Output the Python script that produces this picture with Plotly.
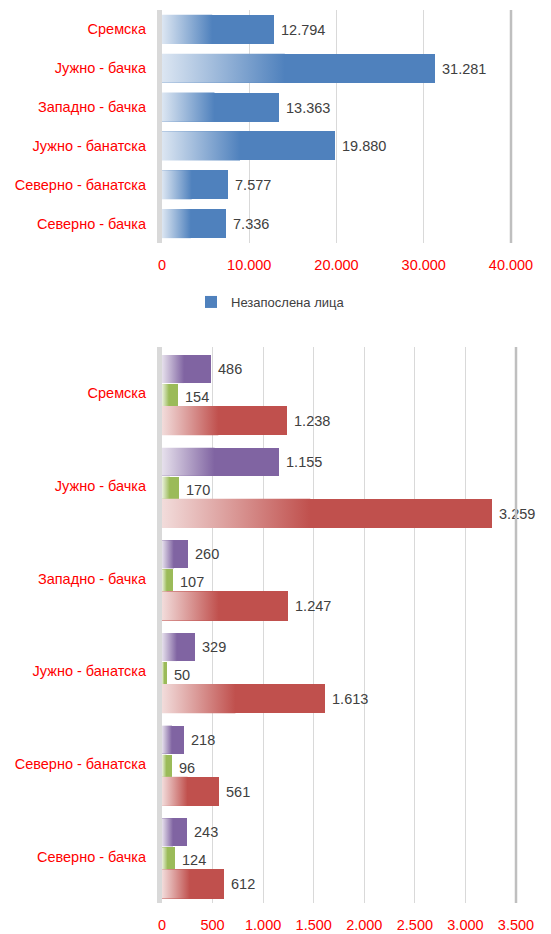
import plotly.graph_objects as go

# ---------------- data ----------------
districts = ["Сремска", "Јужно - бачка", "Западно - бачка",
             "Јужно - банатска", "Северно - банатска", "Северно - бачка"]
unemployed = [12794, 31281, 13363, 19880, 7577, 7336]
series_purple = [486, 1155, 260, 329, 218, 243]
series_green = [154, 170, 107, 50, 96, 124]
series_red = [1238, 3259, 1247, 1613, 561, 612]
top_ticks = [0, 10000, 20000, 30000, 40000]
bottom_ticks = [0, 500, 1000, 1500, 2000, 2500, 3000, 3500]
legend_name = "Незапослена лица"

# ---------------- styles ----------------
BLUE = "#4F81BD"
PURPLE = "#8064A2"
GREEN = "#9BBB59"
RED = "#C0504D"
LABEL_RED = "#FF0000"
TEXT_GREY = "#404040"
GRID = "#D9D9D9"
FONT = "Liberation Sans, Arial, sans-serif"
W, H = 551, 934
GRAD_FRAC = 0.45


def tint(hexcol, f):
    h = hexcol.lstrip("#")
    r, g, b = (int(h[i:i + 2], 16) for i in (0, 2, 4))
    r, g, b = (round(c + (255 - c) * f) for c in (r, g, b))
    return f"rgb({r},{g},{b})"


positions = list(range(len(districts)))
fig = go.Figure()


def add_series(values, color, xa, ya, offset, width, name, showlegend=False,
               grad_end=None):
    fig.add_trace(go.Bar(
        x=values, y=positions, orientation="h", name=name,
        width=width, offset=offset,
        marker=dict(color=color, line=dict(width=0)),
        texttemplate="\u00a0%{x:,}", textposition="outside",
        textfont=dict(family=FONT, size=14.5, color=TEXT_GREY),
        cliponaxis=False, constraintext="none",
        showlegend=showlegend, xaxis=xa, yaxis=ya,
    ))
    # gradient overlay on the left part of each bar
    y_end_rel = offset + width if grad_end is None else grad_end
    for p, v in zip(positions, values):
        gx = GRAD_FRAC * v
        y0, y1 = p + offset, p + y_end_rel
        fig.add_trace(go.Scatter(
            x=[0, gx, gx, 0, 0], y=[y0, y0, y1, y1, y0],
            mode="lines", line=dict(width=0), fill="toself",
            fillgradient=dict(type="horizontal",
                              colorscale=[[0, tint(color, 0.8)], [1, color]]),
            hoverinfo="skip", showlegend=False, xaxis=xa, yaxis=ya,
        ))


# top chart
add_series(unemployed, BLUE, "x", "y", -0.375, 0.75, legend_name, showlegend=True)

# bottom chart
OFF_P, W_P = -0.414, 0.303
OFF_G, W_G = -0.100, 0.271
OFF_R, W_R = 0.138, 0.314
add_series(series_purple, PURPLE, "x2", "y2", OFF_P, W_P, "Серија 1")
add_series(series_green, GREEN, "x2", "y2", OFF_G, W_G, "Серија 2", grad_end=OFF_R)
add_series(series_red, RED, "x2", "y2", OFF_R, W_R, "Серија 3")

xcommon = dict(showgrid=True, gridcolor=GRID, gridwidth=1, zeroline=False,
               showline=False, ticks="", tickformat=",", automargin=False,
               tickfont=dict(family=FONT, size=14.5, color=LABEL_RED),
               ticklabelstandoff=11, fixedrange=True)
ycommon = dict(range=[len(districts) - 0.5, -0.5], tickvals=positions,
               ticktext=districts, showgrid=False, zeroline=False,
               showline=True, linecolor=GRID, linewidth=5, ticks="",
               automargin=False,
               tickfont=dict(family=FONT, size=14.5, color=LABEL_RED),
               ticklabelstandoff=8, fixedrange=True)

fig.update_layout(
    width=W, height=H,
    margin=dict(l=0, r=0, t=0, b=0, autoexpand=False),
    paper_bgcolor="white", plot_bgcolor="white",
    separators=",.",
    bargap=0,
    font=dict(family=FONT, color=TEXT_GREY),
    xaxis=dict(domain=[162 / W, 511 / W], anchor="y", range=[0, 40000],
               tickvals=top_ticks, **xcommon),
    yaxis=dict(domain=[1 - 243 / H, 1 - 10 / H], anchor="x", **ycommon),
    xaxis2=dict(domain=[162 / W, 516 / W], anchor="y2", range=[0, 3500],
                tickvals=bottom_ticks, **xcommon),
    yaxis2=dict(domain=[1 - 903 / H, 1 - 347 / H], anchor="x2", **ycommon),
    legend=dict(orientation="h", x=191 / W, y=1 - 302 / H,
                xanchor="left", yanchor="middle",
                font=dict(family=FONT, size=13, color=TEXT_GREY),
                bgcolor="rgba(0,0,0,0)"),
    shapes=[
        dict(type="line", xref="x domain", yref="y domain", x0=1, x1=1,
             y0=0, y1=1, line=dict(color="#BFBFBF", width=2.5), layer="above"),
        dict(type="line", xref="x2 domain", yref="y2 domain", x0=1, x1=1,
             y0=0, y1=1, line=dict(color="#BFBFBF", width=2.5), layer="above"),
    ],
)

fig.write_html("out.html",
               config={"displayModeBar": False},
               post_script="document.body.style.margin='0';"
                           "document.body.style.padding='0';")
